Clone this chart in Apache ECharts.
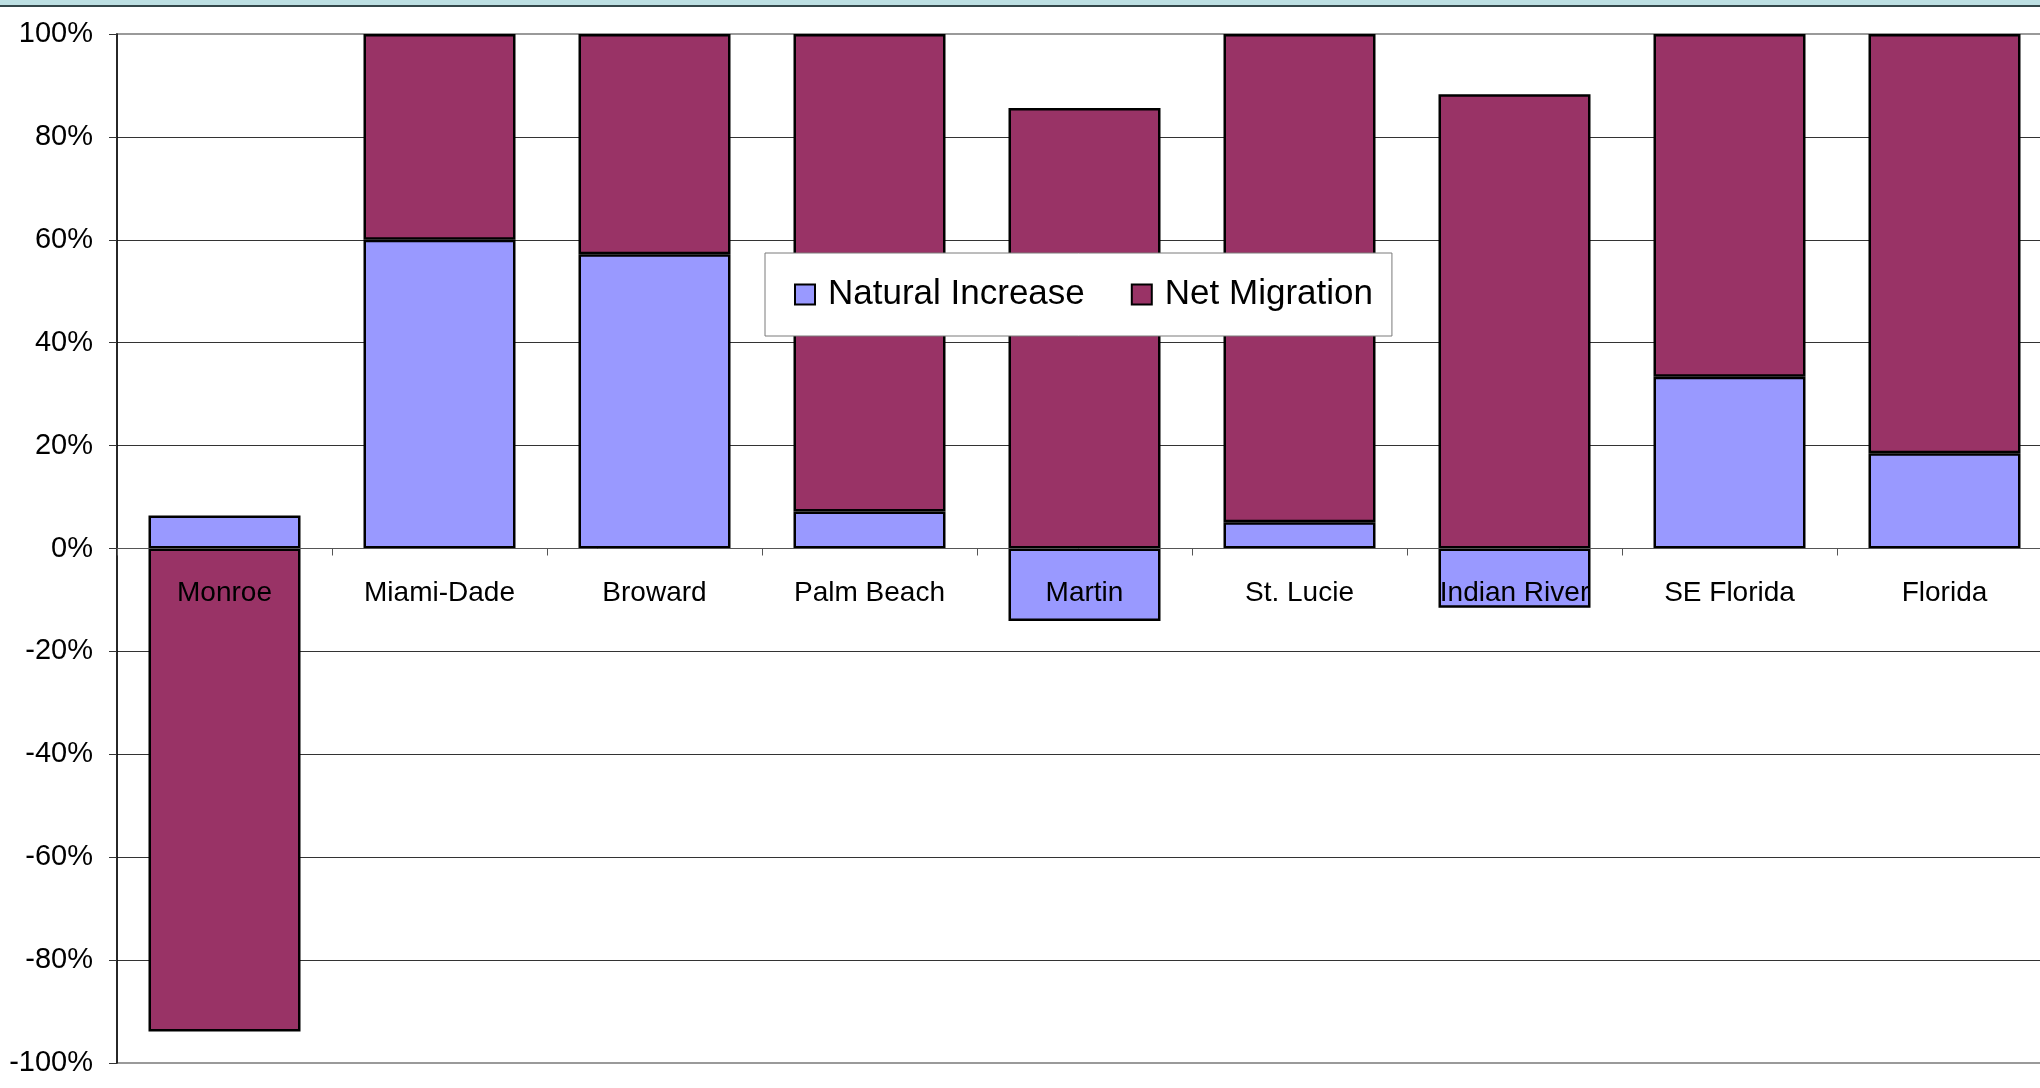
<!DOCTYPE html>
<html>
<head>
<meta charset="utf-8">
<script src="https://cdn.jsdelivr.net/npm/echarts@6/dist/echarts.min.js"></script>
<style>
html,body{margin:0;padding:0;background:#fff;}
#chart{width:2040px;height:1088px;}
</style>
</head>
<body>
<div id="chart"></div>
<script>
const categories = ['Monroe', 'Miami-Dade', 'Broward', 'Palm Beach', 'Martin', 'St. Lucie', 'Indian River', 'SE Florida', 'Florida'];
const naturalIncrease = [6.4, 60, 57.2, 7.2, -14.1, 5.1, -11.5, 33.4, 18.5];
const netMigration = [-93.9, 40, 42.8, 92.8, 85.6, 94.9, 88.3, 66.6, 81.5];
const seriesNames = ['Natural Increase', 'Net Migration'];
const yTicks = { min: -100, max: 100, interval: 20 };

const FONT = '"Liberation Sans", Arial, sans-serif';
const chart = echarts.init(document.getElementById('chart'), null, { renderer: 'canvas' });

const splitColors = [];
for (let v = yTicks.min; v <= yTicks.max; v += yTicks.interval) {
  splitColors.push((v === yTicks.min || v === yTicks.max) ? '#9a9a9a' : '#333333');
}

const GRID_TOP = 34, GRID_H = 1029;
// distance from grid bottom to the zero line, so the category axis sits on 0%
const zeroOffset = GRID_H * (0 - yTicks.min) / (yTicks.max - yTicks.min);

chart.setOption({
  backgroundColor: '#ffffff',
  animation: false,
  graphic: [
    { type: 'rect', left: 0, top: 0, shape: { width: 2040, height: 5 }, style: { fill: '#bde0e3' }, silent: true },
    { type: 'rect', left: 0, top: 5, shape: { width: 2040, height: 2 }, style: { fill: '#34474a' }, silent: true }
  ],
  legend: {
    left: 765,
    top: 253,
    padding: [24, 19, 24, 29],
    backgroundColor: '#ffffff',
    borderColor: '#7a7a7a',
    borderWidth: 1,
    itemWidth: 20,
    itemHeight: 20,
    itemGap: 46,
    icon: 'rect',
    itemStyle: { borderColor: '#000', borderWidth: 2 },
    textStyle: { fontFamily: FONT, fontSize: 35, color: '#000', padding: [0, 0, 0, 8] },
    data: seriesNames
  },
  grid: {
    left: 117,
    top: GRID_TOP,
    width: 1935,
    height: GRID_H,
    containLabel: false,
    outerBoundsMode: 'none',
    show: true,
    borderColor: '#9a9a9a',
    borderWidth: 2,
    backgroundColor: 'transparent'
  },
  xAxis: {
    type: 'category',
    data: categories,
    z: 10,
    position: 'bottom',
    offset: -zeroOffset,
    axisLine: { onZero: false, lineStyle: { color: '#555', width: 1 } },
    axisTick: { show: true, alignWithLabel: false, length: 7, lineStyle: { color: '#555' } },
    axisLabel: { fontFamily: FONT, fontSize: 28, color: '#000', margin: 31, interval: 0 },
    splitLine: { show: false }
  },
  yAxis: {
    type: 'value',
    min: yTicks.min,
    max: yTicks.max,
    interval: yTicks.interval,
    axisLine: { show: true, lineStyle: { color: '#000', width: 1.5 } },
    axisTick: { show: true, length: 8, lineStyle: { color: '#333' } },
    axisLabel: { fontFamily: FONT, fontSize: 29, color: '#000', margin: 24, formatter: '{value}%' },
    splitLine: { show: true, lineStyle: { color: splitColors, width: 1 } }
  },
  series: [
    {
      name: seriesNames[0],
      type: 'bar',
      stack: 'total',
      stackStrategy: 'samesign',
      barWidth: 152,
      data: naturalIncrease,
      itemStyle: { color: '#9999ff', borderColor: '#000', borderWidth: 2.5 }
    },
    {
      name: seriesNames[1],
      type: 'bar',
      stack: 'total',
      stackStrategy: 'samesign',
      barWidth: 152,
      data: netMigration,
      itemStyle: { color: '#993366', borderColor: '#000', borderWidth: 2.5 }
    }
  ]
});
</script>
</body>
</html>
